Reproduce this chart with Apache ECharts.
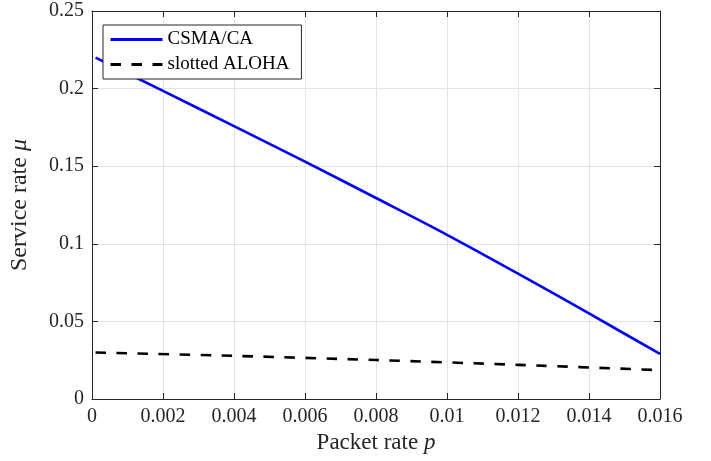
<!DOCTYPE html>
<html>
<head>
<meta charset="utf-8">
<script src="https://cdn.jsdelivr.net/npm/echarts@6/dist/echarts.min.js"></script>
<style>
html,body{margin:0;padding:0;background:#fff;}
#c{width:711px;height:461px;}
</style>
</head>
<body>
<div id="c"></div>
<script>
// Data
const seriesNames = ['CSMA/CA', 'slotted ALOHA'];
const csmaP = [0.0001, 0.002, 0.004, 0.006, 0.008, 0.010, 0.012, 0.014, 0.016];
const csmaMu = [0.2200, 0.1985, 0.1758, 0.1530, 0.1295, 0.1058, 0.0808, 0.0551, 0.0290];
const alohaP = [0.0001, 0.004, 0.008, 0.012, 0.016];
const alohaMu = [0.0300, 0.0278, 0.0251, 0.0220, 0.0186];
const xTicks = [0, 0.002, 0.004, 0.006, 0.008, 0.01, 0.012, 0.014, 0.016];
const yTicks = [0, 0.05, 0.1, 0.15, 0.2, 0.25];

const FONT = '"Liberation Serif", "DejaVu Serif", serif';
const AX = '#262626';
const GRID = '#e3e3e3';

const chart = echarts.init(document.getElementById('c'), null, {renderer: 'canvas'});

function axisCommon(showLabel) {
  return {
    axisLine: {show: true, onZero: false, lineStyle: {color: AX, width: 1}},
    axisTick: {show: true, inside: true, length: 6, lineStyle: {color: AX, width: 1}},
    axisLabel: {show: showLabel, color: AX, fontFamily: FONT, fontSize: 20},
  };
}

chart.setOption({
  animation: false,
  backgroundColor: '#fff',
  grid: {left: 89, right: 51, top: 11, bottom: 62, containLabel: false},
  legend: {
    left: 103, top: 25, orient: 'vertical',
    data: seriesNames,
    itemWidth: 52, itemHeight: 14, itemGap: 6,
    padding: [5, 12, 5, 6],
    backgroundColor: '#fff',
    borderColor: AX, borderWidth: 1, borderRadius: 0,
    itemStyle: {opacity: 0},
    lineStyle: {width: 3},
    textStyle: {fontFamily: FONT, fontSize: 19, color: '#000'}
  },
  xAxis: [
    Object.assign(axisCommon(true), {
      type: 'value', min: 0, max: 0.016, interval: 0.002,
      position: 'bottom',
      name: 'Packet rate {i|p}', nameLocation: 'middle', nameGap: 30,
      nameTextStyle: {fontFamily: FONT, fontSize: 23, color: AX,
        rich: {i: {fontFamily: FONT, fontSize: 23, fontStyle: 'italic', color: AX}}},
      axisLabel: {color: AX, fontFamily: FONT, fontSize: 20, margin: 8,
        formatter: v => { const t = xTicks.find(x => Math.abs(x - v) < 1e-9); return String(t !== undefined ? t : v); }},
      splitLine: {show: true, lineStyle: {color: GRID, width: 1}}
    }),
    Object.assign(axisCommon(false), {
      type: 'value', min: 0, max: 0.016, interval: 0.002,
      position: 'top', splitLine: {show: false}
    })
  ],
  yAxis: [
    Object.assign(axisCommon(true), {
      type: 'value', min: 0, max: 0.25, interval: 0.05,
      position: 'left',
      name: 'Service rate {i|μ}', nameLocation: 'middle', nameGap: 60, nameRotate: 90,
      nameTextStyle: {fontFamily: FONT, fontSize: 24, color: AX,
        rich: {i: {fontFamily: FONT, fontSize: 24, fontStyle: 'italic', color: AX}}},
      axisLabel: {color: AX, fontFamily: FONT, fontSize: 20, margin: 8,
        formatter: v => { const t = yTicks.find(x => Math.abs(x - v) < 1e-9); return String(t !== undefined ? t : v); }},
      splitLine: {show: true, lineStyle: {color: GRID, width: 1}}
    }),
    Object.assign(axisCommon(false), {
      type: 'value', min: 0, max: 0.25, interval: 0.05,
      position: 'right', splitLine: {show: false}
    })
  ],
  series: [
    {
      name: seriesNames[0], type: 'line', xAxisIndex: 0, yAxisIndex: 0,
      data: csmaP.map((p, i) => [p, csmaMu[i]]),
      showSymbol: false, symbol: 'none', smooth: 0.3,
      lineStyle: {color: '#0000ff', width: 2.6},
      itemStyle: {color: '#0000ff'}
    },
    {
      name: seriesNames[1], type: 'line', xAxisIndex: 0, yAxisIndex: 0,
      data: alohaP.map((p, i) => [p, alohaMu[i]]),
      showSymbol: false, symbol: 'none', smooth: 0.3,
      lineStyle: {color: '#000', width: 2.6, type: [10.5, 10.5]},
      itemStyle: {color: '#000'}
    }
  ]
});
</script>
</body>
</html>
